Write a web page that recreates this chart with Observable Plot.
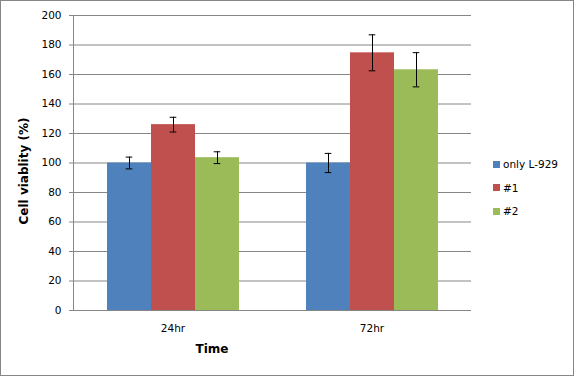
<!DOCTYPE html>
<html>
<head>
<meta charset="utf-8">
<script src="https://cdn.jsdelivr.net/npm/d3@7"></script>
<script src="https://cdn.jsdelivr.net/npm/@observablehq/plot@0.6"></script>
<style>
  body { margin: 0; background: #fff; }
  #wrap { position: relative; width: 574px; height: 376px; font-family: "DejaVu Sans", sans-serif; }
  #wrap svg { position: absolute; left: 0; top: 0; }
  .border { position: absolute; left: 0; top: 0; width: 572px; height: 374px; border: 1px solid #868686; pointer-events: none; }
  .ylabel { position: absolute; left: 24px; top: 171px; transform: translate(-50%, -50%) rotate(-90deg); font: bold 12px "DejaVu Sans", sans-serif; white-space: nowrap; color: #000; }
  .xlabel { position: absolute; left: 212px; top: 349px; transform: translate(-50%, -50%); font: bold 12px "DejaVu Sans", sans-serif; color: #000; }
  .legend { position: absolute; left: 493px; top: 157px; font: 10.5px "DejaVu Sans", sans-serif; color: #000; }
  .legend div { height: 24px; display: flex; align-items: center; height: 14px; margin-bottom: 9.5px; }
  .legend span.sw { display: inline-block; width: 7px; height: 7px; margin-right: 3px; }
</style>
</head>
<body>
<div id="wrap"></div>
<script>
const times = ["24hr", "72hr"];
const series = ["only L-929", "#1", "#2"];
const colors = ["#4F81BD", "#C0504D", "#9BBB59"];
const values24 = [100, 126, 103.6];
const errors24 = [4, 5, 4];
const values72 = [100, 174.7, 163.2];
const errors72 = [6.5, 12.2, 11.6];
const yTicks = [0, 20, 40, 60, 80, 100, 120, 140, 160, 180, 200];

const rows = [];
series.forEach((s, i) => {
  rows.push({time: times[0], series: s, value: values24[i], err: errors24[i]});
  rows.push({time: times[1], series: s, value: values72[i], err: errors72[i]});
});

const grid = "#868686";
const plot = Plot.plot({
  width: 574,
  height: 376,
  marginLeft: 72,
  marginRight: 103,
  marginTop: 15,
  marginBottom: 66,
  style: {fontFamily: "DejaVu Sans, sans-serif", fontSize: "10.5px", color: "#000", background: "transparent"},
  fx: {domain: times, paddingInner: 0, paddingOuter: 0, axis: null, label: null},
  x: {domain: series, paddingInner: 0, paddingOuter: 0.75, axis: null},
  y: {domain: [0, 200], axis: null},
  color: {domain: series, range: colors},
  marks: [
    Plot.gridY({ticks: yTicks, stroke: grid, strokeOpacity: 1}),
    Plot.axisY({ticks: yTicks, tickSize: 4, tickPadding: 8, stroke: grid, strokeOpacity: 1, label: null, fill: "#000"}),
    Plot.frame({anchor: "left", facetAnchor: "left", stroke: grid}),
    Plot.axisFx({anchor: "bottom", tickSize: 0, tickPadding: 14, label: null, fill: "#000"}),
    Plot.barY(rows, {fx: "time", x: "series", y: "value", fill: "series"}),
    Plot.ruleY([0], {stroke: grid}),
    Plot.ruleX(rows, {fx: "time", x: "series", y1: d => d.value - d.err, y2: d => d.value + d.err, stroke: "#000", strokeWidth: 1}),
    Plot.tickY(rows, {fx: "time", x: "series", y: d => d.value - d.err, stroke: "#000", insetLeft: 18.7, insetRight: 18.7}),
    Plot.tickY(rows, {fx: "time", x: "series", y: d => d.value + d.err, stroke: "#000", insetLeft: 18.7, insetRight: 18.7})
  ]
});

const wrap = document.getElementById("wrap");
wrap.appendChild(plot);

const yl = document.createElement("div");
yl.className = "ylabel"; yl.textContent = "Cell viablity (%)";
wrap.appendChild(yl);
const xl = document.createElement("div");
xl.className = "xlabel"; xl.textContent = "Time";
wrap.appendChild(xl);

const lg = document.createElement("div");
lg.className = "legend";
series.forEach((s, i) => {
  const item = document.createElement("div");
  const sw = document.createElement("span");
  sw.className = "sw"; sw.style.background = colors[i];
  item.appendChild(sw);
  item.appendChild(document.createTextNode(s));
  lg.appendChild(item);
});
wrap.appendChild(lg);

const b = document.createElement("div");
b.className = "border";
wrap.appendChild(b);
</script>
</body>
</html>
